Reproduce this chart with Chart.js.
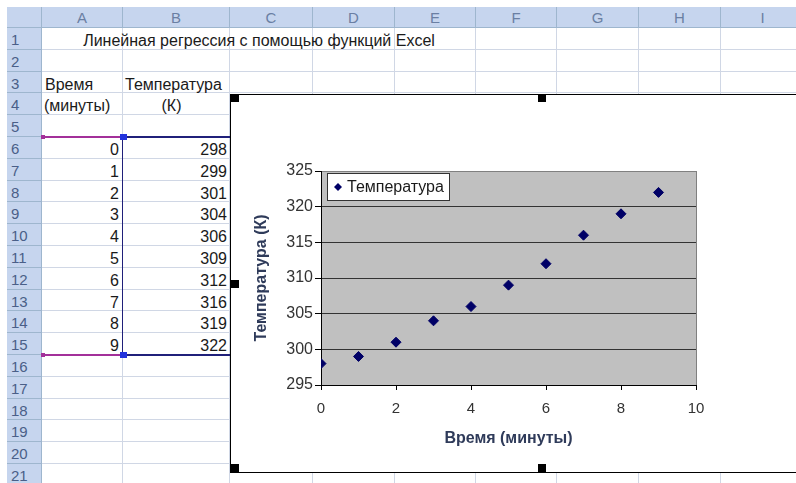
<!DOCTYPE html>
<html>
<head>
<meta charset="utf-8">
<script src="https://cdn.jsdelivr.net/npm/chart.js@4.4.0/dist/chart.umd.min.js"></script>
<style>
  html, body { margin: 0; padding: 0; background: #fff; overflow: hidden; width: 796px; height: 483px; }
  body { position: relative; font-family: "Liberation Sans", Arial, sans-serif; }
  .cell { position: absolute; box-sizing: border-box; border-right: 1px solid #d0d7e5; border-bottom: 1px solid #d0d7e5; }
  .hdr { position: absolute; box-sizing: border-box; background: #c6d5ee; border-right: 1px solid #9eb6ce; border-bottom: 1px solid #9eb6ce; color: #5b6f93; font-size: 15px; line-height: 21px; }
  .txt { position: absolute; font-size: 16px; line-height: 21px; color: #1a1a1a; white-space: nowrap; }
  .handle { position: absolute; width: 8px; height: 8px; background: #000; }
  #chartBox { position: absolute; left: 230px; top: 94px; width: 580px; height: 377px; background: #fff;
              border-left: 1px solid #000; border-top: 1px solid #000; border-bottom: 1px solid #000; }
  #chart { position: absolute; left: 0; top: 0; }
</style>
</head>
<body>
<div id="sheet"></div>
<div id="chartBox"><canvas id="chart" width="565" height="377"></canvas></div>
<div class="handle" style="left:231px;top:94px"></div>
<div class="handle" style="left:538px;top:94px"></div>
<div class="handle" style="left:231px;top:280px"></div>
<div class="handle" style="left:231px;top:464px"></div>
<div class="handle" style="left:538px;top:464px"></div>
<script>
// data
const times = [0, 1, 2, 3, 4, 5, 6, 7, 8, 9];
const temps = [298, 299, 301, 304, 306, 309, 312, 316, 319, 322];
const seriesLabel = 'Температура';
const xTitle = 'Время (минуты)';
const yTitle = 'Температура (К)';
const sheetTitle = 'Линейная регрессия с помощью функций Excel';
const colLetters = ['A', 'B', 'C', 'D', 'E', 'F', 'G', 'H', 'I'];

// sheet geometry
const colEdges = [42, 123, 230, 313, 395, 476, 557, 639, 721, 805];
const rowTop = r => Math.round(28 + (r - 1) * 21.8);
const sheet = document.getElementById('sheet');

function box(cls, x, y, w, h, html, style) {
  const d = document.createElement('div');
  d.className = cls;
  d.style.left = x + 'px'; d.style.top = y + 'px';
  d.style.width = w + 'px'; d.style.height = h + 'px';
  if (style) d.style.cssText += style;
  if (html !== undefined) d.textContent = html;
  sheet.appendChild(d);
  return d;
}

// corner + column headers
box('hdr', 7, 7, 35, 21);
colLetters.forEach((c, i) => {
  box('hdr', colEdges[i], 7, colEdges[i + 1] - colEdges[i], 21, c, 'text-align:center;color:#6a7fa3;');
});
// row headers + cells
for (let r = 1; r <= 21; r++) {
  const y = rowTop(r), h = rowTop(r + 1) - y;
  box('hdr', 7, y, 35, h, String(r), 'padding-left:4px;line-height:' + (h + 2) + 'px;color:#4a5f88;');
  for (let i = 0; i < colLetters.length; i++) {
    box('cell', colEdges[i], y, colEdges[i + 1] - colEdges[i], h);
  }
}

// texts
function text(str, x, y, w, align) {
  box('txt', x, y + 2, w, 21, str, 'text-align:' + align + ';');
}
text(sheetTitle, colEdges[0], rowTop(1), colEdges[5] - colEdges[0], 'center');
text('Время', 45, rowTop(3), 76, 'left');
text('(минуты)', 44, rowTop(4), 76, 'left');
text('Температура', 125, rowTop(3), 104, 'left');
text('(К)', 123, rowTop(4), 97, 'center');
times.forEach((t, i) => {
  text(String(t), 42, rowTop(6 + i), 77, 'right');
  text(String(temps[i]), 123, rowTop(6 + i), 104, 'right');
});

// range highlight (A6:B15)
const yT = rowTop(6), yB = rowTop(16);
box('x', 42, yT - 1, 81, 2, undefined, 'position:absolute;background:#a3309a;');
box('x', 42, yB - 1, 81, 2, undefined, 'position:absolute;background:#a3309a;');
box('x', 123, yT - 1, 107, 2, undefined, 'position:absolute;background:#20207a;');
box('x', 123, yB - 1, 107, 2, undefined, 'position:absolute;background:#20207a;');
box('x', 122, yT, 1, yB - yT, undefined, 'position:absolute;background:#20207a;');
box('x', 41, yT - 2, 4, 4, undefined, 'position:absolute;background:#a3309a;');
box('x', 41, yB - 2, 4, 4, undefined, 'position:absolute;background:#a3309a;');
box('x', 120, yT - 3, 7, 6, undefined, 'position:absolute;background:#2233dd;');
box('x', 120, yB - 3, 7, 6, undefined, 'position:absolute;background:#2233dd;');

// chart
const FONT = '"Liberation Sans", Arial, sans-serif';

const plotFill = {
  id: 'plotFill',
  beforeDraw(chart) {
    const { ctx, chartArea: a } = chart;
    ctx.save();
    ctx.fillStyle = '#c0c0c0';
    ctx.fillRect(a.left, a.top, a.right - a.left, a.bottom - a.top);
    ctx.restore();
  }
};

const legendBox = {
  id: 'legendBox',
  afterDatasetsDraw(chart) {
    const { ctx, chartArea: a } = chart;
    const bx = a.left + 6, by = a.top + 2, bw = 123, bh = 28;
    const cy = by + bh / 2;
    ctx.save();
    ctx.fillStyle = '#fff';
    ctx.fillRect(bx, by, bw, bh);
    ctx.strokeStyle = '#333';
    ctx.lineWidth = 1;
    ctx.strokeRect(bx + 0.5, by + 0.5, bw - 1, bh - 1);
    // diamond marker
    const mx = bx + 11, r = 4;
    ctx.fillStyle = '#000066';
    ctx.beginPath();
    ctx.moveTo(mx, cy - r); ctx.lineTo(mx + r, cy); ctx.lineTo(mx, cy + r); ctx.lineTo(mx - r, cy);
    ctx.closePath();
    ctx.fill();
    ctx.fillStyle = '#1a1a1a';
    ctx.font = '16px ' + FONT;
    ctx.textBaseline = 'middle';
    ctx.fillText(chart.data.datasets[0].label, bx + 20, cy + 1);
    ctx.restore();
  }
};

new Chart(document.getElementById('chart'), {
  type: 'scatter',
  data: {
    datasets: [{
      label: seriesLabel,
      data: times.map((t, i) => ({ x: t, y: temps[i] })),
      pointStyle: 'rectRot',
      pointRadius: 5,
      backgroundColor: '#000066',
      borderColor: '#000066',
      borderWidth: 1
    }]
  },
  options: {
    responsive: false,
    animation: false,
    layout: { padding: { left: 0, top: 76, right: 100, bottom: 7 } },
    plugins: { legend: { display: false }, tooltip: { enabled: false } },
    scales: {
      x: {
        type: 'linear', min: 0, max: 10,
        afterFit(s) { s.height = 80; },
        ticks: { stepSize: 2, padding: 10, color: '#333', font: { size: 15, family: FONT } },
        grid: {
          color: c => c.tick && c.tick.value === 10 ? '#808080' : 'rgba(0,0,0,0)',
          tickColor: '#000', tickLength: 5
        },
        border: { color: '#000' },
        title: { display: true, text: xTitle, color: '#2f3b5a',
                 font: { size: 16, weight: 'bold', family: FONT }, padding: { top: 0, bottom: 17 } }
      },
      y: {
        min: 295, max: 325,
        afterFit(s) { s.width = 90; },
        ticks: { stepSize: 5, padding: 2, color: '#333', font: { size: 16, family: FONT } },
        grid: {
          color: c => {
            if (!c.tick) return '#333';
            if (c.tick.value === 325) return '#808080';
            if (c.tick.value === 295) return 'rgba(0,0,0,0)';
            return '#333';
          },
          tickColor: '#000', tickLength: 6
        },
        border: { color: '#000' },
        title: { display: true, text: yTitle, color: '#2f3b5a',
                 font: { size: 16, weight: 'bold', family: FONT }, padding: { top: 21, bottom: 0 } }
      }
    }
  },
  plugins: [plotFill, legendBox]
});
</script>
</body>
</html>
